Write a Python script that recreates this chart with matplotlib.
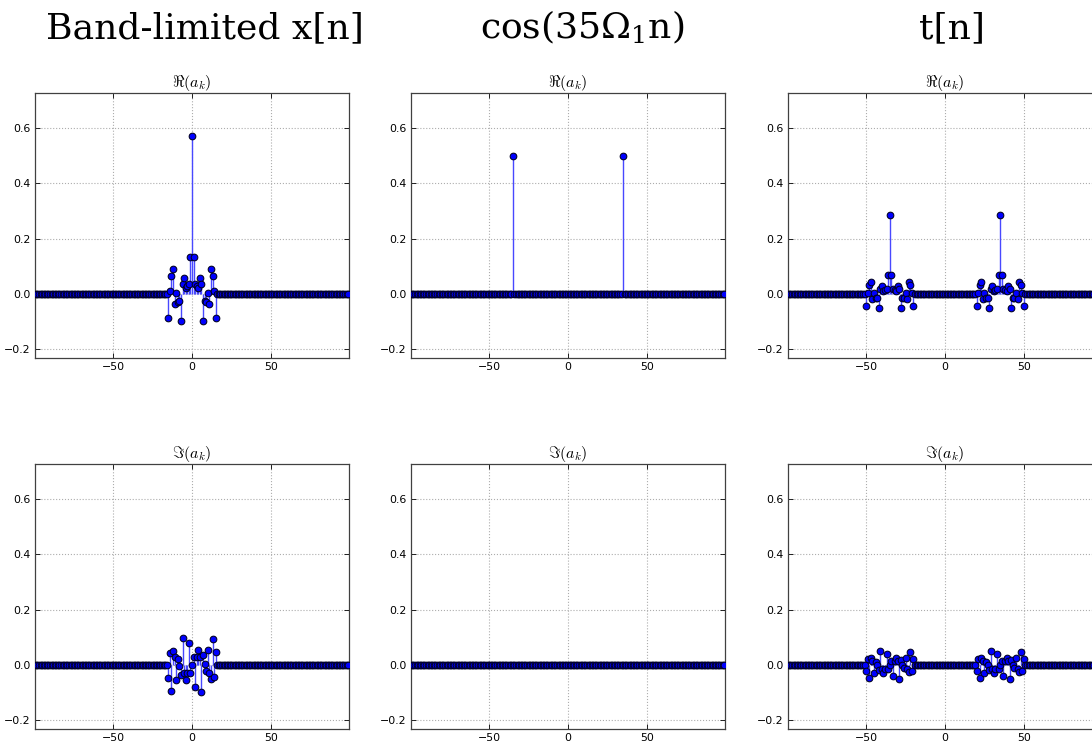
import numpy as np
import matplotlib
matplotlib.use("Agg")
import matplotlib.pyplot as plt

plt.rcParams["mathtext.fontset"] = "cm"
plt.rcParams["axes.unicode_minus"] = True

# harmonic index k
k = np.arange(-99, 100)

# band-limited x[n]: coefficients for k = -15..15
x_k = np.arange(-15, 16)
x_re = [-0.088, 0.01, 0.066, 0.09, -0.035, 0.005, -0.03, -0.025, -0.097, 0.035,
        0.058, 0.02, 0.03, 0.035, 0.135, 0.57, 0.135, 0.035, 0.03, 0.02, 0.058,
        0.035, -0.097, -0.025, -0.03, 0.005, -0.035, 0.09, 0.066, 0.01, -0.088]
x_im = [-0.046, 0.045, -0.093, 0.05, 0.03, -0.054, 0.02, -0.002, -0.036, 0.097,
        -0.028, -0.053, -0.028, 0.078, -0.03, 0.0, 0.03, -0.078, 0.028, 0.053,
        0.028, -0.097, 0.036, 0.002, -0.02, 0.054, -0.03, -0.05, 0.093, -0.045, 0.046]

# cos(35 Omega_1 n)
cos_k = [-35, 35]
cos_re = [0.5, 0.5]

# t[n]: two copies of a cluster centred on k = -35 and k = 35
t_centres = [-35, 35]
t_offsets = np.arange(-15, 16)
t_re_cluster = [-0.044, 0.005, 0.033, 0.045, -0.018, 0.003, -0.015, -0.013, -0.049, 0.018,
                0.029, 0.01, 0.015, 0.018, 0.068, 0.285, 0.068, 0.018, 0.015, 0.01, 0.029,
                0.018, -0.049, -0.013, -0.015, 0.003, -0.018, 0.045, 0.033, 0.005, -0.044]
t_im_cluster = [-0.023, 0.023, -0.047, 0.025, 0.015, -0.027, 0.01, -0.001, -0.018, 0.049,
                -0.014, -0.027, -0.014, 0.039, -0.015, 0.0, 0.015, -0.039, 0.014, 0.027,
                0.014, -0.049, 0.018, 0.001, -0.01, 0.027, -0.015, -0.025, 0.047, -0.023, 0.023]

col_titles = ["Band-limited x[n]", r"cos(35$\mathregular{\Omega_1}$n)", "t[n]"]
row_titles = [r"$\Re(a_k)$", r"$\Im(a_k)$"]


def spectrum(ks, vals):
    out = np.zeros(len(k))
    for kk, v in zip(ks, vals):
        out[kk + 99] = v
    return out


t_re = np.zeros(len(k))
t_im = np.zeros(len(k))
for c in t_centres:
    t_re += spectrum(t_offsets + c, t_re_cluster)
    t_im += spectrum(t_offsets + c, t_im_cluster)

data = [
    [spectrum(x_k, x_re), spectrum(x_k, x_im)],
    [spectrum(cos_k, cos_re), np.zeros(len(k))],
    [t_re, t_im],
]

W, H = 1092, 746
fig = plt.figure(figsize=(W / 100, H / 100), dpi=100)
fig.patch.set_facecolor("white")

col_left = [35, 411, 788]
row_top = [93, 464]
ax_w, ax_h = 314, 265
title_x = [205, 582, 952]

for c in range(3):
    fig.text(title_x[c] / W, 1 - 38 / H, col_titles[c], family="DejaVu Serif",
             fontsize=26, ha="center", va="baseline")
    for r in range(2):
        ax = fig.add_axes([col_left[c] / W, 1 - (row_top[r] + ax_h) / H, ax_w / W, ax_h / H])
        vals = data[c][r]
        ml, sl, bl = ax.stem(k, vals, linefmt="-", markerfmt="o", basefmt=" ")
        sl.set_color("#4848ff")
        sl.set_linewidth(1.0)
        ml.set_markerfacecolor("#0000ff")
        ml.set_markeredgecolor("#000020")
        ml.set_markeredgewidth(0.75)
        ml.set_markersize(4.8)
        ml.set_zorder(3)
        ax.set_xlim(-99.5, 99.5)
        ax.set_ylim(-0.231, 0.726)
        ax.set_xticks([-50, 0, 50])
        ax.set_yticks([-0.2, 0.0, 0.2, 0.4, 0.6])
        ax.grid(True, color="0.68", linestyle=":", linewidth=0.8)
        ax.tick_params(direction="in", top=True, right=True, length=3.5,
                       width=0.6, labelsize=7.9, pad=3)
        for s in ax.spines.values():
            s.set_color("0.25")
            s.set_linewidth(0.9)
        ax.set_title(row_titles[r], fontsize=11.5, pad=4)

fig.savefig("out.png", dpi=100, facecolor="white")
